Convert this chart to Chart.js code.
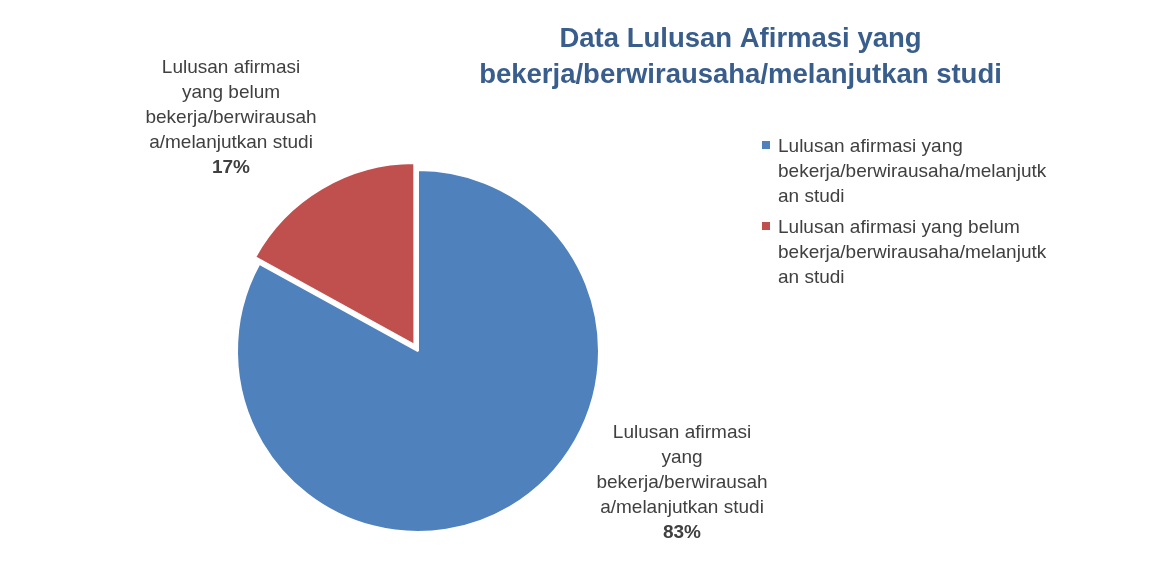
<!DOCTYPE html>
<html>
<head>
<meta charset="utf-8">
<style>
  html, body { margin: 0; padding: 0; background: #ffffff; }
  #wrap { position: relative; width: 1173px; height: 573px; }
  canvas { display: block; }
</style>
<script src="https://cdn.jsdelivr.net/npm/chart.js@4"></script>
</head>
<body>
<div id="wrap"><canvas id="c" width="1173" height="573"></canvas></div>
<script>
// ---- data ----
const categories = [
  "Lulusan afirmasi yang bekerja/berwirausaha/melanjutkan studi",
  "Lulusan afirmasi yang belum bekerja/berwirausaha/melanjutkan studi"
];
const values = [83, 17];
const percentLabels = ["83%", "17%"];
const titleLines = ["Data Lulusan Afirmasi yang", "bekerja/berwirausaha/melanjutkan studi"];
const labelLines = [
  ["Lulusan afirmasi", "yang", "bekerja/berwirausah", "a/melanjutkan studi"],
  ["Lulusan afirmasi", "yang belum", "bekerja/berwirausah", "a/melanjutkan studi"]
];
const legendLines = [
  ["Lulusan afirmasi yang", "bekerja/berwirausaha/melanjutk", "an studi"],
  ["Lulusan afirmasi yang belum", "bekerja/berwirausaha/melanjutk", "an studi"]
];
const colors = ["#4F81BD", "#C0504D"];

// ---- layout (styles/positions) ----
const FONT = "'Liberation Sans', Arial, sans-serif";
const TEXT_COLOR = "#404040";
const TITLE_COLOR = "#3A5E8C";
const PIE = { cx: 418, cy: 351, r: 181, border: 2, explode: 28 };
const spacingTotal = PIE.border + PIE.explode;
const side = 2 * PIE.r + spacingTotal;
const padding = {
  left: PIE.cx - side / 2,
  top: PIE.cy - side / 2,
  right: 1173 - (PIE.cx + side / 2),
  bottom: 573 - (PIE.cy + side / 2)
};
const labelLayout = [
  { x: 682, firstBaseline: 438, lineH: 25 },
  { x: 231, firstBaseline: 73, lineH: 25 }
];
const legendLayout = { markerX: 762, markerSize: 8, textX: 778, firstBaseline: 152, lineH: 25, entryGap: 6 };
const titleLayout = { x: 740.5, baselines: [47, 83] };

const overlay = {
  id: 'overlay',
  afterDraw(chart) {
    const ctx = chart.ctx;
    ctx.save();
    // title
    ctx.fillStyle = TITLE_COLOR;
    ctx.font = "bold 27.5px " + FONT;
    ctx.textAlign = 'center';
    ctx.textBaseline = 'alphabetic';
    titleLines.forEach((t, i) => ctx.fillText(t, titleLayout.x, titleLayout.baselines[i]));

    // data labels
    ctx.fillStyle = TEXT_COLOR;
    labelLines.forEach((lines, i) => {
      const L = labelLayout[i];
      ctx.font = "19px " + FONT;
      lines.forEach((t, j) => ctx.fillText(t, L.x, L.firstBaseline + j * L.lineH));
      ctx.font = "bold 19px " + FONT;
      ctx.fillText(percentLabels[i], L.x, L.firstBaseline + lines.length * L.lineH);
    });

    // legend
    ctx.textAlign = 'left';
    ctx.font = "19px " + FONT;
    let y = legendLayout.firstBaseline;
    legendLines.forEach((lines, i) => {
      ctx.fillStyle = colors[i];
      ctx.fillRect(legendLayout.markerX, y - 11, legendLayout.markerSize, legendLayout.markerSize);
      ctx.fillStyle = TEXT_COLOR;
      lines.forEach((t, j) => ctx.fillText(t, legendLayout.textX, y + j * legendLayout.lineH));
      y += lines.length * legendLayout.lineH + legendLayout.entryGap;
    });
    ctx.restore();
  }
};

new Chart(document.getElementById('c'), {
  type: 'pie',
  data: {
    labels: categories,
    datasets: [{
      data: values,
      backgroundColor: colors,
      borderColor: '#ffffff',
      borderWidth: PIE.border,
      hoverBorderWidth: PIE.border,
      offset: [0, PIE.explode],
      hoverOffset: 0
    }]
  },
  options: {
    responsive: false,
    animation: false,
    devicePixelRatio: 1,
    layout: { padding },
    events: [],
    plugins: {
      legend: { display: false },
      title: { display: false },
      tooltip: { enabled: false }
    }
  },
  plugins: [overlay]
});
</script>
</body>
</html>
